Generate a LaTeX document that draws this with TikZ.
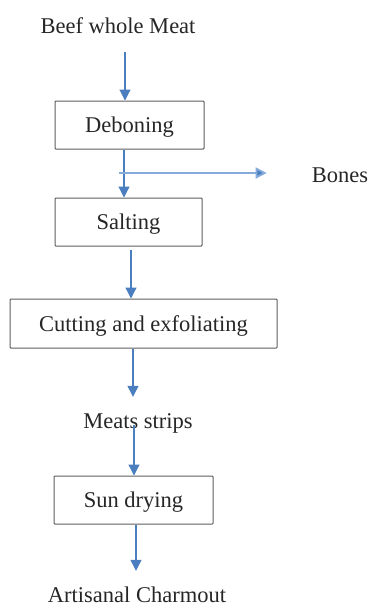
\documentclass[tikz,border=0pt]{standalone}
\usepackage{fontspec}
\setmainfont{Liberation Serif}
\usepackage{xcolor}
\usepackage{tikz}
\usetikzlibrary{positioning,arrows.meta,calc}
\definecolor{flowblue}{HTML}{4A7EBF}
\definecolor{bonesblue}{HTML}{86AADA}
\definecolor{boxgray}{HTML}{5E5E5E}

\begin{document}
\begin{tikzpicture}[x=1pt, y=-1pt,
  every node/.style={font=\fontsize{22.5}{27}\selectfont, text=black!85, inner sep=0pt, text height=15pt, text depth=0pt},
  stage/.style={draw=boxgray, line width=1pt, rounded corners=0.8pt},
  flow/.style={draw=flowblue, line width=1.2pt, -{Triangle[width=11pt,length=11pt]}},
  bonesflow/.style={draw=bonesblue, line width=1.8pt, -{Triangle[width=11pt,length=11pt, fill=flowblue]}}]
\useasboundingbox (0,0) rectangle (369,606);
\node (beef) at (118,25.5) {Beef whole Meat};
\node[stage, minimum width=149pt, minimum height=48pt] (deb) at (129.5,125) {Deboning};
\node[stage, minimum width=147pt, minimum height=48pt] (salt) at (128.5,222) {Salting};
\node[stage, minimum width=267pt, minimum height=49pt] (cut) at (143.5,323.5) {Cutting and exfoliating};
\node (meats) at (138,420.5) {Meats strips};
\node[stage, minimum width=159pt, minimum height=48pt] (sun) at (133.5,500) {Sun drying};
\node (art) at (137,594.5) {Artisanal Charmout};
\node (bones) at (340,174.7) {Bones};
\coordinate (split) at (119,173);
% main line
\draw[flow, shorten <=19pt] ([xshift=7pt]beef.south) -- ([xshift=-4.5pt]deb.north);
\draw[flow] ([xshift=-5.5pt]deb.south) -- ([xshift=-4.5pt]salt.north);
\draw[bonesflow, shorten >=45pt] (split) -- (split -| bones.west);
\draw[flow, shorten <=3pt] ([xshift=2.5pt]salt.south) -- ([xshift=-12.5pt]cut.north);
\draw[flow, shorten >=16pt] ([xshift=-10.5pt]cut.south) -- ([xshift=-5pt]meats.north);
\draw[flow, shorten <=-3pt] ([xshift=-4pt]meats.south) -- ([xshift=0.5pt]sun.north);
\draw[flow, shorten >=16pt] ([xshift=2.5pt]sun.south) -- ([xshift=-1pt]art.north);
\end{tikzpicture}
\end{document}
